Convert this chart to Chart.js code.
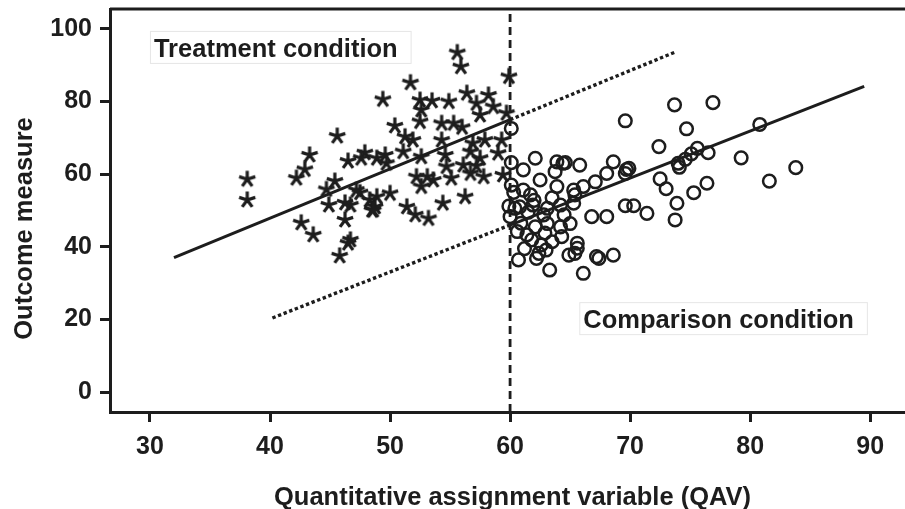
<!DOCTYPE html>
<html>
<head>
<meta charset="utf-8">
<script src="https://cdn.jsdelivr.net/npm/chart.js@4.4.1/dist/chart.umd.min.js"></script>
<style>
  html, body { margin: 0; padding: 0; background: #ffffff; }
  #chart { display: block; }
</style>
</head>
<body>
<canvas id="chart" width="905" height="509"></canvas>
<script>
// Treatment group (QAV below the cutoff), drawn as asterisks
const treatmentX = [
  38.1, 38.1, 45.6, 43.3, 42.9, 42.2, 46.5, 47.9, 47.6, 45.4,
  44.7, 44.9, 46.7, 42.6, 43.6, 46.25, 46.5, 45.8, 47.5, 48.5,
  55.6, 55.9, 59.9, 51.7, 49.4, 52.5, 53.5, 54.9, 56.4, 58.2,
  57.2, 58.6, 52.6, 57.5, 59.7, 50.4, 52.5, 54.3, 55.3, 56.0,
  51.25, 51.9, 54.3, 56.9, 57.9, 49.6, 51.1, 52.6, 54.6, 56.7,
  57.5, 59.0, 48.9, 49.7, 54.7, 56.1, 57.2, 52.2, 53.1, 55.1,
  56.7, 57.8, 59.4, 52.6, 50.0, 48.9, 56.25, 54.4, 51.4, 52.1,
  53.2, 48.75, 53.6, 47.2, 48.3, 46.25, 46.7, 48.6, 59.3
];
const treatmentY = [
  58.6, 52.9, 70.5, 65.3, 61.3, 58.9, 63.6, 65.9, 64.4, 58.1,
  55.8, 51.5, 51.5, 46.6, 43.3, 47.4, 41.0, 37.5, 54.9, 50.1,
  93.5, 89.6, 86.9, 85.2, 80.6, 80.4, 80.2, 80.0, 82.3, 81.8,
  79.5, 78.6, 77.7, 76.3, 76.8, 73.3, 74.5, 74.0, 74.0, 72.9,
  70.3, 69.4, 69.4, 68.5, 69.4, 65.3, 66.2, 64.8, 65.3, 66.2,
  64.4, 65.8, 64.4, 63.0, 62.1, 62.5, 62.3, 59.3, 59.3, 58.9,
  60.2, 59.3, 59.8, 56.6, 54.7, 53.8, 53.8, 52.0, 51.0, 48.8,
  47.8, 51.0, 58.4, 55.6, 52.9, 52.1, 41.9, 50.1, 69.4
];

// Comparison group (QAV above the cutoff), drawn as open circles
const comparisonX = [
  69.6, 73.7, 76.9, 74.7, 80.8, 72.4, 75.6, 76.5, 75.1, 74.6,
  74.0, 79.25, 83.8, 81.6, 72.5, 73.0, 76.4, 75.3, 73.9, 73.75,
  69.6, 70.3, 71.4, 68.6, 69.9, 69.6, 65.8, 64.4, 63.9, 62.1,
  60.1, 60.1, 67.1, 68.05, 66.8, 68.05, 65.6, 67.2, 68.6, 61.1,
  62.5, 63.75, 63.9, 65.3, 66.1, 69.7, 61.1, 61.7, 59.9, 60.4,
  60.8, 61.9, 63.1, 64.2, 65.3, 65.4, 60.0, 60.6, 61.4, 62.1,
  63.1, 64.2, 65.0, 61.8, 62.6, 63.5, 64.3, 65.6, 62.4, 63.0,
  64.9, 65.4, 60.7, 63.3, 66.1, 67.4, 62.2, 60.1, 60.3, 74.1,
  64.6, 61.5, 62.8, 62.0, 63.5, 60.9, 62.9, 64.5, 61.2
];
const comparisonY = [
  74.7, 79.1, 79.7, 72.5, 73.7, 67.6, 67.1, 65.9, 65.6, 64.1,
  63.0, 64.5, 61.8, 58.1, 58.7, 56.0, 57.5, 54.9, 52.0, 47.4,
  51.3, 51.3, 49.2, 63.4, 61.6, 60.2, 62.5, 63.0, 63.4, 64.4,
  72.6, 63.2, 57.9, 60.2, 48.3, 48.3, 39.6, 37.3, 37.7, 61.2,
  58.4, 60.7, 56.6, 55.6, 56.6, 61.3, 55.6, 54.3, 51.2, 50.6,
  51.0, 51.5, 50.6, 51.5, 52.0, 54.3, 48.3, 44.2, 43.3, 45.5,
  46.4, 45.5, 46.4, 41.9, 40.5, 41.4, 42.8, 41.0, 38.2, 39.1,
  37.7, 38.2, 36.4, 33.6, 32.7, 36.8, 36.8, 57.0, 55.0, 61.9,
  63.2, 49.5, 48.8, 52.8, 53.5, 46.5, 43.8, 48.8, 39.5
];

// Fitted regression lines and their projections past the cutoff
const cutoff = 60;
const treatmentFitX = [32, 60];
const treatmentFitY = [37, 75];
const treatmentProjX = [60, 73.8];
const treatmentProjY = [75, 93.7];
const comparisonFitX = [60, 89.5];
const comparisonFitY = [46, 84.2];
const comparisonProjX = [40.2, 60];
const comparisonProjY = [20.4, 46];

const xTickValues = [30, 40, 50, 60, 70, 80, 90];
const yTickValues = [0, 20, 40, 60, 80, 100];

const xTitle = "Quantitative assignment variable (QAV)";
const yTitle = "Outcome measure";
const conditionTexts = ["Treatment condition", "Comparison condition"];

const ink = "#1d1d1d";
const fontFamily = "Arial, 'Liberation Sans', Helvetica, sans-serif";

function toPoints(xs, ys) {
  return xs.map((x, i) => ({ x, y: ys[i] }));
}

// five-armed asterisk marker
function makeAsterisk() {
  const size = 20;
  const c = document.createElement("canvas");
  c.width = size;
  c.height = size;
  const g = c.getContext("2d");
  const r = 8.5;
  g.strokeStyle = ink;
  g.lineWidth = 3.2;
  g.lineCap = "butt";
  g.beginPath();
  for (let k = 0; k < 5; k++) {
    const a = -Math.PI / 2 + (k * 2 * Math.PI) / 5;
    g.moveTo(size / 2, size / 2);
    g.lineTo(size / 2 + r * Math.cos(a), size / 2 + r * Math.sin(a));
  }
  g.stroke();
  return c;
}

const labelPlugin = {
  id: "labelPlugin",
  afterDraw(chart) {
    const { ctx, chartArea } = chart;
    const xs = chart.scales.x;
    const ys = chart.scales.y;
    ctx.save();

    // top frame line
    ctx.strokeStyle = ink;
    ctx.lineWidth = 3;
    ctx.beginPath();
    ctx.moveTo(chartArea.left, chartArea.top);
    ctx.lineTo(chartArea.right, chartArea.top);
    ctx.stroke();

    // condition labels in white boxes
    const anchors = [
      { x: 30.33, y: 92.3 },
      { x: 66.1, y: 17.6 },
    ];
    ctx.font = `bold 25.5px ${fontFamily}`;
    ctx.textAlign = "left";
    ctx.textBaseline = "alphabetic";
    conditionTexts.forEach((text, i) => {
      const px = xs.getPixelForValue(anchors[i].x);
      const py = ys.getPixelForValue(anchors[i].y);
      const w = ctx.measureText(text).width;
      ctx.fillStyle = "#ffffff";
      ctx.fillRect(px - 3, py - 25, w + 17, 32);
      ctx.strokeStyle = "#e6e6e6";
      ctx.lineWidth = 1;
      ctx.strokeRect(px - 3.5, py - 25.5, w + 17, 32);
      ctx.fillStyle = ink;
      ctx.fillText(text, px, py);
    });

    // axis titles
    ctx.fillStyle = ink;
    ctx.textAlign = "center";
    ctx.fillText(xTitle, (chartArea.left + chartArea.right) / 2 + 5, 505);
    ctx.translate(32, (chartArea.top + chartArea.bottom) / 2 + 18);
    ctx.rotate(-Math.PI / 2);
    ctx.fillText(yTitle, 0, 0);

    ctx.restore();
  },
};

const lineStyle = {
  showLine: true,
  pointRadius: 0,
  borderColor: ink,
  borderWidth: 3,
  fill: false,
};

const ctx = document.getElementById("chart").getContext("2d");
new Chart(ctx, {
  type: "scatter",
  data: {
    datasets: [
      { ...lineStyle, data: toPoints(treatmentFitX, treatmentFitY), order: 1 },
      { ...lineStyle, data: toPoints(comparisonFitX, comparisonFitY), order: 1 },
      { ...lineStyle, data: toPoints(treatmentProjX, treatmentProjY), borderWidth: 3.4, borderDash: [3.4, 2.6], order: 1 },
      { ...lineStyle, data: toPoints(comparisonProjX, comparisonProjY), borderWidth: 3.4, borderDash: [3.4, 2.6], order: 1 },
      {
        ...lineStyle,
        data: [{ x: cutoff, y: -5.5 }, { x: cutoff, y: 105.5 }],
        borderWidth: 2.8,
        borderDash: [8, 5],
        order: 0,
      },
      {
        data: toPoints(treatmentX, treatmentY),
        pointStyle: makeAsterisk(),
        pointRadius: 10,
        clip: false,
        order: 2,
      },
      {
        data: toPoints(comparisonX, comparisonY),
        pointStyle: "circle",
        pointRadius: 6.3,
        borderWidth: 2.5,
        borderColor: ink,
        backgroundColor: "rgba(0,0,0,0)",
        clip: false,
        order: 2,
      },
    ],
  },
  plugins: [labelPlugin],
  options: {
    responsive: false,
    animation: false,
    events: [],
    devicePixelRatio: 1,
    layout: {
      autoPadding: false,
      padding: { top: 9, right: 0, bottom: 0, left: 0 },
    },
    plugins: {
      legend: { display: false },
      tooltip: { enabled: false },
    },
    scales: {
      x: {
        type: "linear",
        min: 26.67,
        max: 92.9,
        afterBuildTicks(scale) {
          scale.ticks = xTickValues.map((v) => ({ value: v }));
        },
        afterFit(scale) {
          scale.height = 97;
          scale.paddingLeft = 0;
          scale.paddingRight = 0;
        },
        border: { display: true, color: ink, width: 3 },
        grid: {
          drawOnChartArea: false,
          drawTicks: true,
          tickLength: 10,
          tickWidth: 3,
          tickColor: ink,
          color: ink,
        },
        ticks: {
          color: ink,
          padding: 10,
          maxRotation: 0,
          font: { family: fontFamily, size: 25, weight: "bold" },
        },
      },
      y: {
        type: "linear",
        min: -5.5,
        max: 105.5,
        afterBuildTicks(scale) {
          scale.ticks = yTickValues.map((v) => ({ value: v }));
        },
        afterFit(scale) {
          scale.width = 110;
          scale.paddingTop = 0;
          scale.paddingBottom = 0;
        },
        border: { display: true, color: ink, width: 3 },
        grid: {
          drawOnChartArea: false,
          drawTicks: true,
          tickLength: 10,
          tickWidth: 3,
          tickColor: ink,
          color: ink,
        },
        ticks: {
          color: ink,
          padding: 8,
          font: { family: fontFamily, size: 25, weight: "bold" },
        },
      },
    },
  },
});
</script>
</body>
</html>
